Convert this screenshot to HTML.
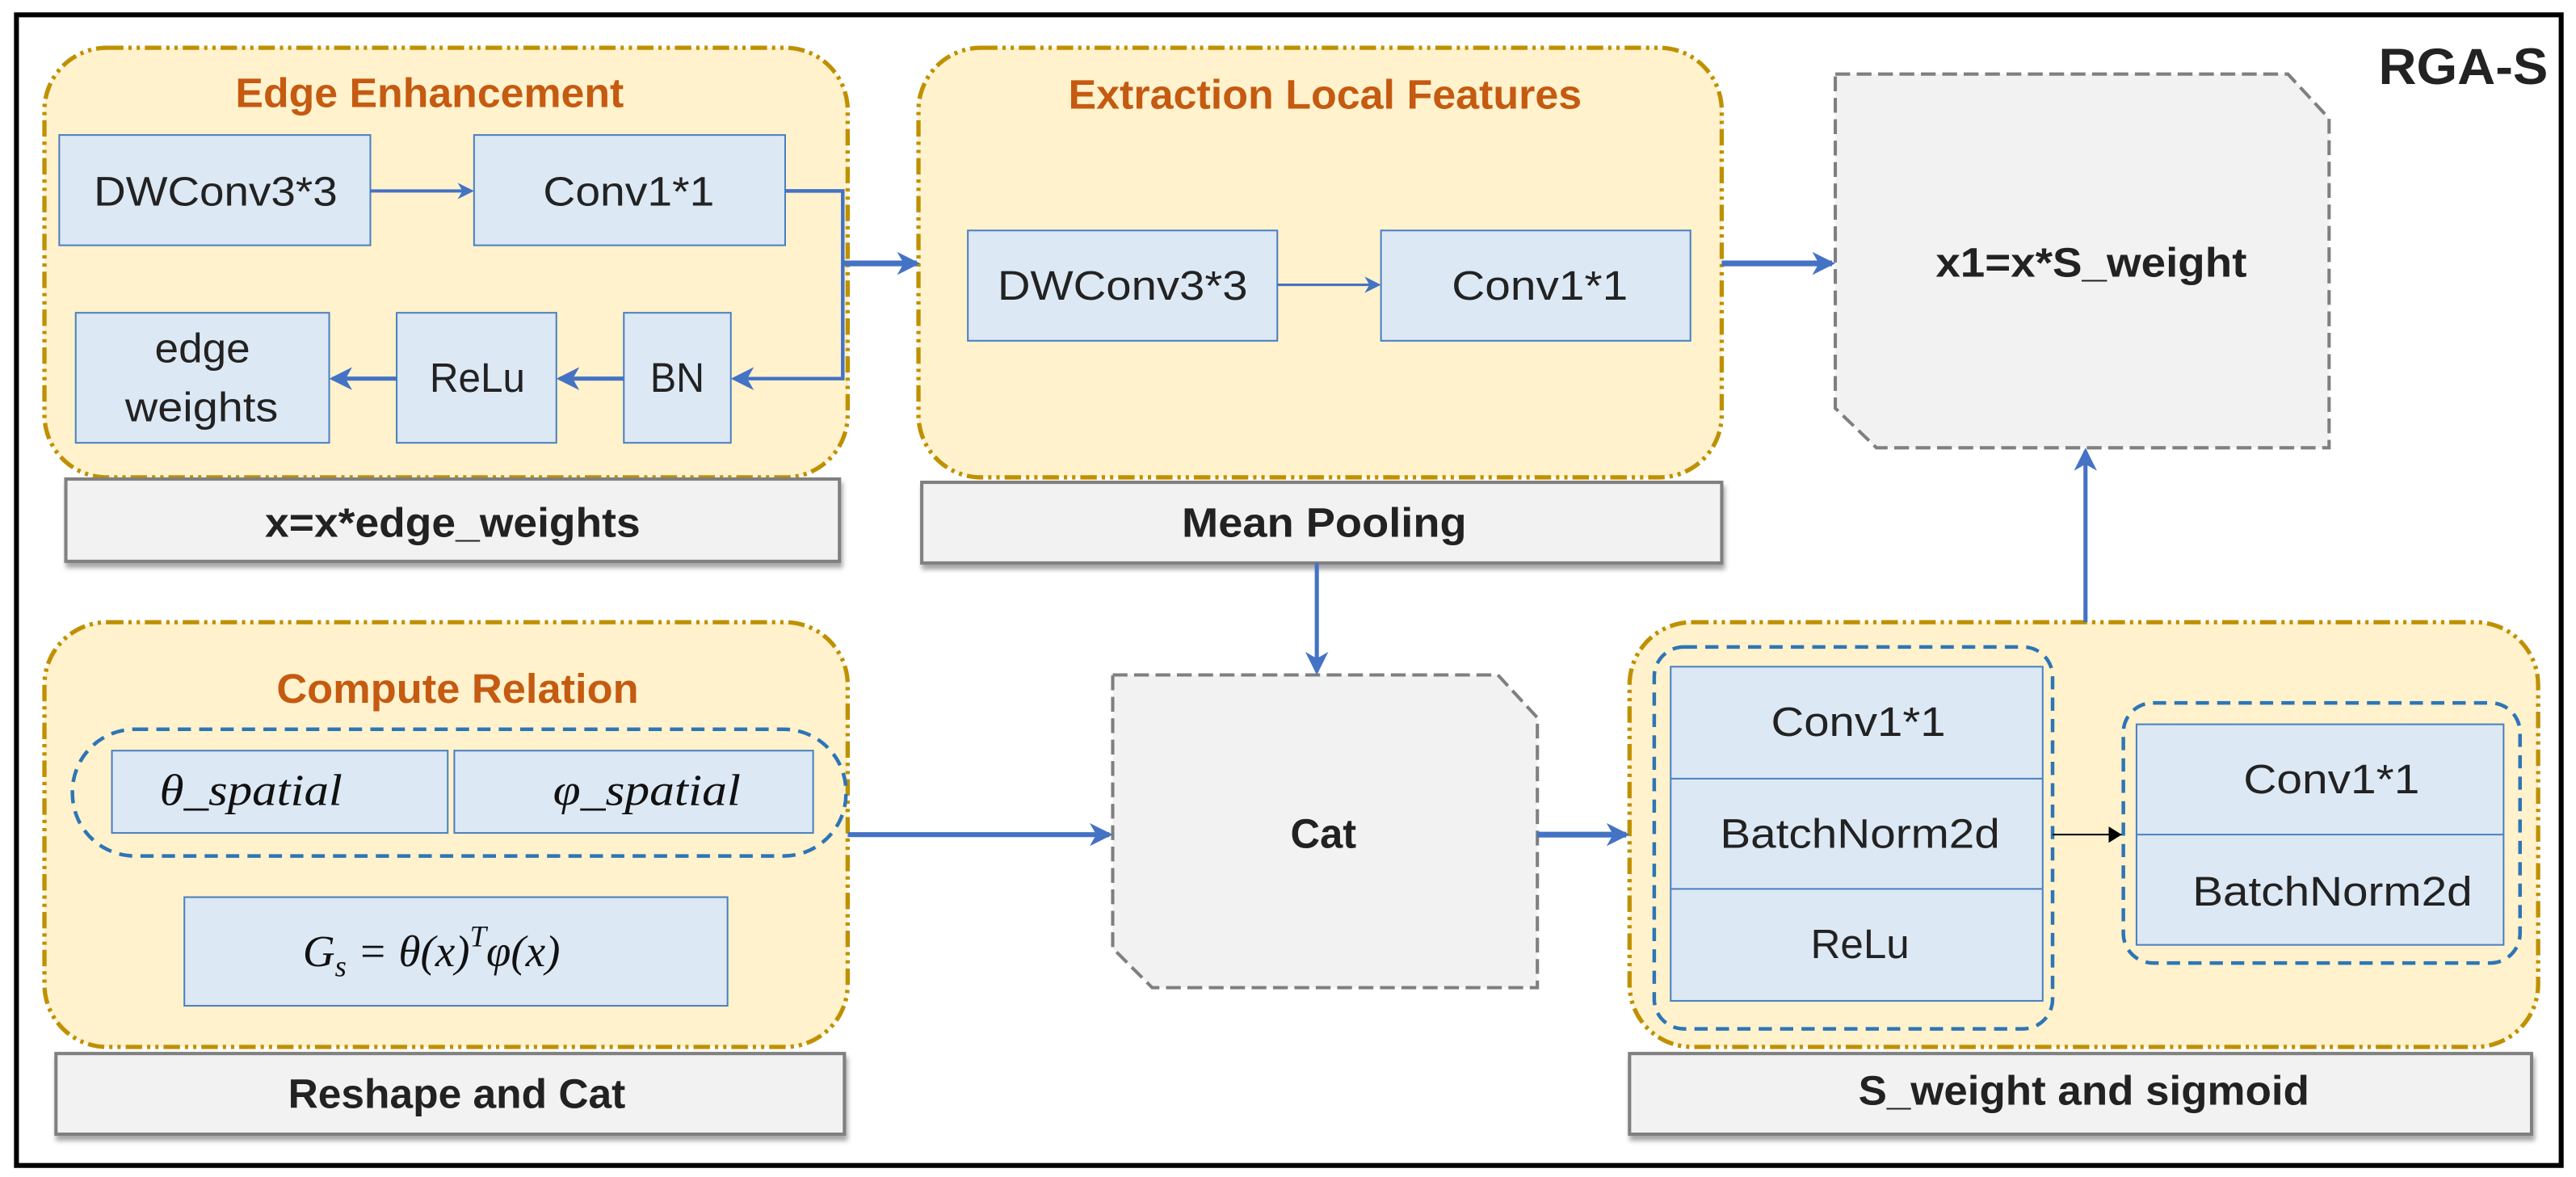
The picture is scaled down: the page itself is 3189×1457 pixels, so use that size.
<!DOCTYPE html>
<html><head><meta charset="utf-8"><style>
html,body{margin:0;padding:0;background:#fff;}
svg{display:block;}
text{font-family:"Liberation Sans",sans-serif;fill:#222;}
.t{font-size:25px;}
.b{font-weight:bold;}
.m{font-family:"Liberation Serif",serif;font-style:italic;font-size:27px;fill:#111;}
</style></head><body>
<svg width="3189" height="1457" viewBox="0 0 1565 715" xmlns="http://www.w3.org/2000/svg">
<defs>
<marker id="a" markerWidth="10" markerHeight="10" refX="8" refY="5" orient="auto" markerUnits="userSpaceOnUse"><path d="M0,0 L10,5 L0,10 L3,5 z" fill="#4472c4"/></marker>
<marker id="ab" markerWidth="14" markerHeight="14" refX="12" refY="7" orient="auto" markerUnits="userSpaceOnUse"><path d="M0,0 L14,7 L0,14 L4,7 z" fill="#4472c4"/></marker>
<marker id="k" markerWidth="8" markerHeight="10" refX="8" refY="5" orient="auto" markerUnits="userSpaceOnUse"><path d="M0,0 L8,5 L0,10 z" fill="#000"/></marker>
<filter id="sh" x="-5%" y="-20%" width="110%" height="150%"><feDropShadow dx="1" dy="3" stdDeviation="1.5" flood-color="#000" flood-opacity="0.35"/></filter>
</defs>
<rect x="0" y="0" width="1565" height="715" fill="#fff"/>
<rect x="10" y="9" width="1546" height="699" fill="none" stroke="#000" stroke-width="3"/>
<text x="1445" y="51" textLength="103" lengthAdjust="spacingAndGlyphs" class="b" style="font-size:31px">RGA-S</text>

<g fill="#fff2cc" stroke="#bf9000" stroke-width="2.6" stroke-dasharray="10,3,2,3,2,3">
<rect x="27" y="29" width="488" height="261" rx="38"/>
<rect x="558" y="29" width="488" height="261" rx="38"/>
<rect x="27" y="378" width="488" height="258" rx="38"/>
<rect x="990" y="378" width="552" height="258" rx="38"/>
</g>
<g class="b" style="font-size:25px" lengthAdjust="spacingAndGlyphs">
<text x="143" y="65" textLength="236" lengthAdjust="spacingAndGlyphs" style="fill:#c55a11">Edge Enhancement</text>
<text x="649" y="66" textLength="312" lengthAdjust="spacingAndGlyphs" style="fill:#c55a11">Extraction Local Features</text>
<text x="168" y="427" textLength="220" lengthAdjust="spacingAndGlyphs" style="fill:#c55a11">Compute Relation</text>
</g>

<g fill="#dde8f5" stroke="#4a80c0" stroke-width="1">
<rect x="36" y="82" width="189" height="67"/>
<rect x="288" y="82" width="189" height="67"/>
<rect x="46" y="190" width="154" height="79"/>
<rect x="241" y="190" width="97" height="79"/>
<rect x="379" y="190" width="65" height="79"/>
<rect x="588" y="140" width="188" height="67"/>
<rect x="839" y="140" width="188" height="67"/>
<rect x="68" y="456" width="204" height="50"/>
<rect x="276" y="456" width="218" height="50"/>
<rect x="112" y="545" width="330" height="66"/>
<rect x="1015" y="405" width="226" height="203"/>
<line x1="1015" y1="473" x2="1241" y2="473"/>
<line x1="1015" y1="540" x2="1241" y2="540"/>
<rect x="1298" y="440" width="223" height="134"/>
<line x1="1298" y1="507" x2="1521" y2="507"/>
</g>
<g class="t">
<text x="57" y="125" textLength="148" lengthAdjust="spacingAndGlyphs">DWConv3*3</text>
<text x="330" y="125" textLength="104" lengthAdjust="spacingAndGlyphs">Conv1*1</text>
<text x="94" y="220" textLength="58" lengthAdjust="spacingAndGlyphs">edge</text>
<text x="76" y="256" textLength="93" lengthAdjust="spacingAndGlyphs">weights</text>
<text x="261" y="238" textLength="58" lengthAdjust="spacingAndGlyphs">ReLu</text>
<text x="395" y="238" textLength="33" lengthAdjust="spacingAndGlyphs">BN</text>
<text x="606" y="182" textLength="152" lengthAdjust="spacingAndGlyphs">DWConv3*3</text>
<text x="882" y="182" textLength="107" lengthAdjust="spacingAndGlyphs">Conv1*1</text>
<text x="1076" y="447" textLength="106" lengthAdjust="spacingAndGlyphs">Conv1*1</text>
<text x="1045" y="515" textLength="170" lengthAdjust="spacingAndGlyphs">BatchNorm2d</text>
<text x="1100" y="582" textLength="60" lengthAdjust="spacingAndGlyphs">ReLu</text>
<text x="1363" y="482" textLength="107" lengthAdjust="spacingAndGlyphs">Conv1*1</text>
<text x="1332" y="550" textLength="170" lengthAdjust="spacingAndGlyphs">BatchNorm2d</text>
</g>
<text x="97" y="489" class="m" textLength="111" lengthAdjust="spacingAndGlyphs">θ_spatial</text>
<text x="336" y="489" class="m" textLength="114" lengthAdjust="spacingAndGlyphs">φ_spatial</text>
<text x="184" y="587" class="m">G<tspan font-size="18" dy="6">s</tspan><tspan dy="-6"> = θ(x)</tspan><tspan font-size="18" dy="-12">T</tspan><tspan dy="12">φ(x)</tspan></text>

<g fill="none" stroke="#2e75b6" stroke-width="2.2" stroke-dasharray="8,5">
<rect x="44" y="443" width="470" height="77" rx="38"/>
<rect x="1005" y="393" width="242" height="232" rx="18"/>
<rect x="1290" y="427" width="241" height="158" rx="18"/>
</g>

<g fill="#f2f2f2" stroke="#7f7f7f" stroke-width="2" stroke-dasharray="9,4">
<path d="M1115,45 L1390,45 L1415,72 L1415,272 L1140,272 L1115,248 Z"/>
<path d="M676,410 L910,410 L934,436 L934,600 L700,600 L676,576 Z"/>
</g>
<text x="1176" y="168" textLength="189" lengthAdjust="spacingAndGlyphs" class="b" style="font-size:25px">x1=x*S_weight</text>
<text x="784" y="515" textLength="40" lengthAdjust="spacingAndGlyphs" class="b" style="font-size:25px">Cat</text>

<g fill="#f2f2f2" stroke="#808080" stroke-width="2" filter="url(#sh)">
<rect x="40" y="291" width="470" height="50"/>
<rect x="560" y="293" width="486" height="49"/>
<rect x="34" y="640" width="479" height="49"/>
<rect x="990" y="640" width="548" height="49"/>
</g>
<g class="b" style="font-size:25px">
<text x="161" y="326" textLength="228" lengthAdjust="spacingAndGlyphs">x=x*edge_weights</text>
<text x="718" y="326" textLength="173" lengthAdjust="spacingAndGlyphs">Mean Pooling</text>
<text x="175" y="673" textLength="205" lengthAdjust="spacingAndGlyphs">Reshape and Cat</text>
<text x="1129" y="671" textLength="274" lengthAdjust="spacingAndGlyphs">S_weight and sigmoid</text>
</g>

<g fill="none" stroke="#4472c4">
<line x1="225" y1="116" x2="286" y2="116" stroke-width="2" marker-end="url(#a)"/>
<polyline points="477,116 512,116 512,230 446,230" stroke-width="2.2" marker-end="url(#ab)"/>
<line x1="379" y1="230" x2="340" y2="230" stroke-width="2.5" marker-end="url(#ab)"/>
<line x1="241" y1="230" x2="202" y2="230" stroke-width="2.5" marker-end="url(#ab)"/>
<line x1="512" y1="160" x2="557" y2="160" stroke-width="3.5" marker-end="url(#ab)"/>
<line x1="776" y1="173" x2="837" y2="173" stroke-width="1.5" marker-end="url(#a)"/>
<line x1="1046" y1="160" x2="1113" y2="160" stroke-width="3.5" marker-end="url(#ab)"/>
<line x1="800" y1="342" x2="800" y2="408" stroke-width="2.5" marker-end="url(#ab)"/>
<line x1="515" y1="507" x2="674" y2="507" stroke-width="3" marker-end="url(#ab)"/>
<line x1="934" y1="507" x2="988" y2="507" stroke-width="3.5" marker-end="url(#ab)"/>
<line x1="1267" y1="378" x2="1267" y2="274" stroke-width="2.5" marker-end="url(#ab)"/>
</g>
<line x1="1247" y1="507" x2="1289" y2="507" stroke="#000" stroke-width="1" marker-end="url(#k)"/>
</svg>
</body></html>
